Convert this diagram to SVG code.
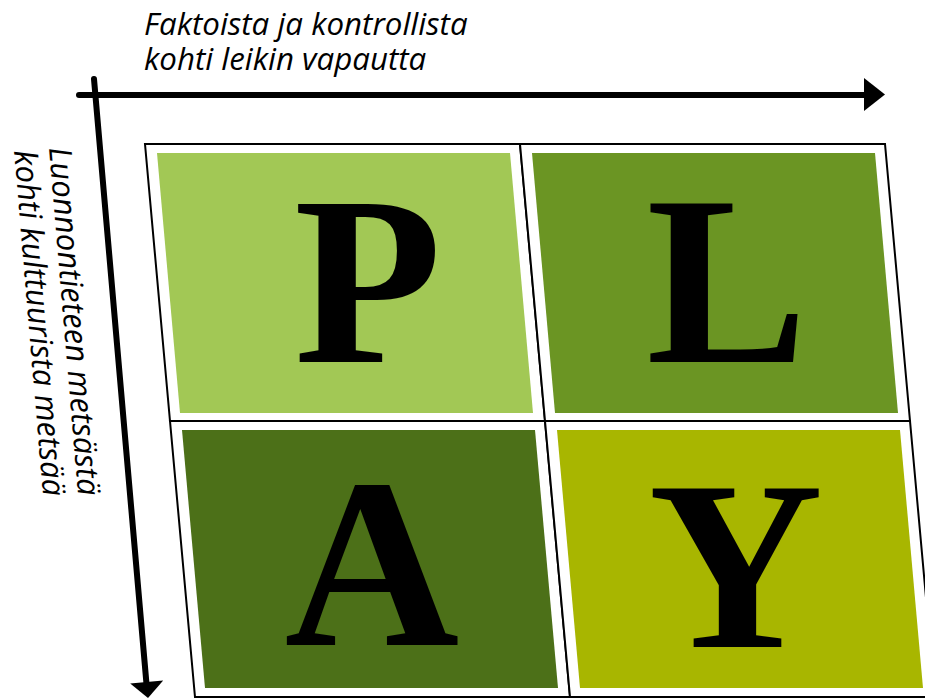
<svg xmlns="http://www.w3.org/2000/svg" width="925" height="699" viewBox="0 0 925 699">
  <style>
    .frame { fill: #ffffff; stroke: #000000; stroke-width: 2; }
    .letter { font-family: "Liberation Serif", "DejaVu Serif", serif; font-weight: bold; font-size: 242px; fill: #000000; text-anchor: middle; }
    .axis-label { font-family: "Open Sans", "Noto Sans", "DejaVu Sans", sans-serif; font-style: italic; font-size: 31.3px; fill: #000000; }
    .axis { stroke: #000000; stroke-width: 6; stroke-linecap: round; fill: none; }
    .head { fill: #000000; }
  </style>
  <rect x="0" y="0" width="925" height="699" fill="#ffffff"/>

  <g id="label-x">
    <text class="axis-label" x="144" y="35">Faktoista ja kontrollista</text>
    <text class="axis-label" x="144" y="70">kohti leikin vapautta</text>
  </g>
  <g id="label-y" transform="translate(49,148) rotate(85.2)">
    <text class="axis-label" x="0" y="0">Luonnontieteen metsästä</text>
    <text class="axis-label" x="0" y="35">kohti kulttuurista metsää</text>
  </g>

  <g id="cell-P">
    <polygon class="frame" points="145,144 520,144 545,421 170,421"/>
    <polygon fill="#A2C855" points="157,153 510,153 533,413 180,413"/>
    <text class="letter" x="368" y="362">P</text>
  </g>
  <g id="cell-L">
    <polygon class="frame" points="520,144 885,144 910,421 545,421"/>
    <polygon fill="#6B9523" points="532,153 875,153 898,413 555,413"/>
    <text class="letter" x="727" y="362">L</text>
  </g>
  <g id="cell-A">
    <polygon class="frame" points="170,421 545,421 570,697 195,697"/>
    <polygon fill="#4C7018" points="182,430 535,430 558,688 205,688"/>
    <text class="letter" x="372" y="645">A</text>
  </g>
  <g id="cell-Y">
    <polygon class="frame" points="545,421 910,421 935,697 570,697"/>
    <polygon fill="#A8B600" points="557,430 900,430 923,688 580,688"/>
    <text class="letter" x="736" y="647">Y</text>
  </g>

  <g id="connectors">
    <line class="axis" x1="79" y1="95" x2="866" y2="95"/>
    <polygon class="head" points="864,78 885,94.5 864,111"/>
    <line class="axis" x1="94" y1="79" x2="146.5" y2="684"/>
    <polygon class="head" points="130.2,683.4 163.2,680.6 148,698"/>
  </g>
</svg>
